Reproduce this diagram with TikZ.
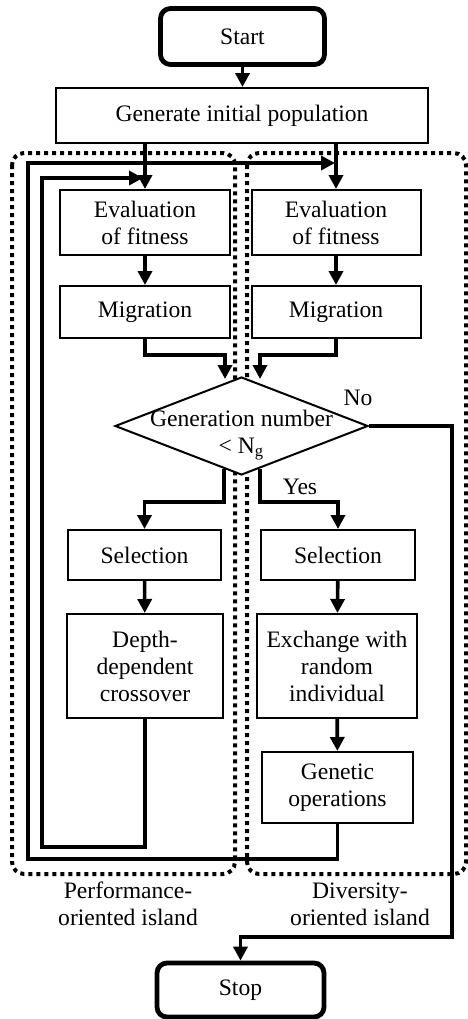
\documentclass[tikz,border=0pt]{standalone}
\usepackage{fontspec}
\setmainfont{Liberation Serif}
\usepackage{tikz}
\usetikzlibrary{shapes.geometric,arrows.meta}

\tikzset{
  box/.style={draw, line width=1pt, align=center, inner sep=0pt},
  termbox/.style={draw, line width=2.4pt, rounded corners=5pt, inner sep=0pt},
  decision/.style={draw, fill=white, diamond, line width=1pt, inner sep=0pt,
    minimum width=126.5pt, minimum height=49pt},
  flow/.style={line width=1.8pt, -{Triangle[width=7pt,length=7pt]}},
  island/.style={line width=2pt, dash pattern=on 2pt off 2pt, rounded corners=6pt},
}

\begin{document}
\begin{tikzpicture}[x=0.5pt, y=-0.5pt]
    \fontsize{11.8}{13.5}\selectfont
    \useasboundingbox (0,0) rectangle (467,1019);

    %  the two islands
    \draw[island] (12,153) rectangle (235,874);
    \draw[island] (247,153) rectangle (466,874);
    \node[align=center] (perfLbl) at (128,904) {Performance-\\oriented island};
    \node[align=center] (divLbl) at (360,904) {Diversity-\\oriented island};

    %  start and initial population
    \node[termbox, minimum width=82pt, minimum height=28pt] (start) at (242.5,36.5) {Start};
    \node[box, minimum width=186pt, minimum height=27.5pt] (init) at (242,115.5) {Generate initial population};

    %  evaluation and migration
    \node[box, minimum width=85pt, minimum height=32.5pt] (evalP) at (145,222.5) {Evaluation\\of fitness};
    \node[box, minimum width=84.5pt, minimum height=32.5pt] (evalD) at (336,222.5) {Evaluation\\of fitness};
    \node[box, minimum width=85pt, minimum height=26pt] (migP) at (145,312) {Migration};
    \node[box, minimum width=84.5pt, minimum height=26pt] (migD) at (336,312) {Migration};

    %  check of the generation number
    \node[decision, label={[align=center, yshift=-4.5pt]center:{Generation number\\< N\textsubscript{g}}}]
      (check) at (241.5,426) {};
    \node (no) at (358,398) {No};
    \node (yes) at (300,487) {Yes};

    %  selection and variation
    \node[box, minimum width=76.5pt, minimum height=25pt] (selP) at (144.5,555) {Selection};
    \node[box, minimum width=77pt, minimum height=25pt] (selD) at (338,555) {Selection};
    \node[box, minimum width=78pt, minimum height=52pt] (depth) at (145,666) {Depth-\\dependent\\crossover};
    \node[box, minimum width=80pt, minimum height=52pt] (exch) at (337,666) {Exchange with\\random\\individual};
    \node[box, minimum width=75.5pt, minimum height=35.5pt] (genop) at (337.5,787.5) {Genetic\\operations};

    \node[termbox, minimum width=83.5pt, minimum height=27pt] (stop) at (240.5,990) {Stop};

    \coordinate (inP) at (225,379);
    \coordinate (inD) at (260,379);
    \coordinate (outP) at (224,469);
    \coordinate (outD) at (260,469);
    \coordinate (backP) at (42,847);
    \coordinate (retP) at (143,178);
    \coordinate (backD) at (28,859);
    \coordinate (retD) at (335,163);
    \coordinate (exitTurn) at (452,937);

    \draw[flow] (start.south) -- (start.south |- init.north);
    \draw[flow] (evalP.north |- init.south) -- (evalP.north);
    \draw[flow] (evalD.north |- init.south) -- (evalD.north);
    \draw[flow] (evalP) -- (migP);
    \draw[flow] (evalD) -- (migD);
    \draw[flow] (migP.south) -- ++(0,16) -| (inP);
    \draw[flow] (migD.south) -- ++(0,16) -| (inD);
    \draw[flow] (outP) -- ++(0,33) -| (selP.north);
    \draw[flow] (outD) -- ++(0,33) -| (selD.north);
    \draw[flow] (selP) -- (depth);
    \draw[flow] (selD) -- (exch);
    \draw[flow] (exch) -- (genop);

    %  loops back to the evaluation
    \draw[flow] (depth.south) |- (backP) |- (retP);
    \draw[flow] (genop.south) |- (backD) |- (retD);

    %  leave when the generations are used up
    \draw[flow] (check.east) -| (exitTurn) -| (stop.north);
\end{tikzpicture}
\end{document}
